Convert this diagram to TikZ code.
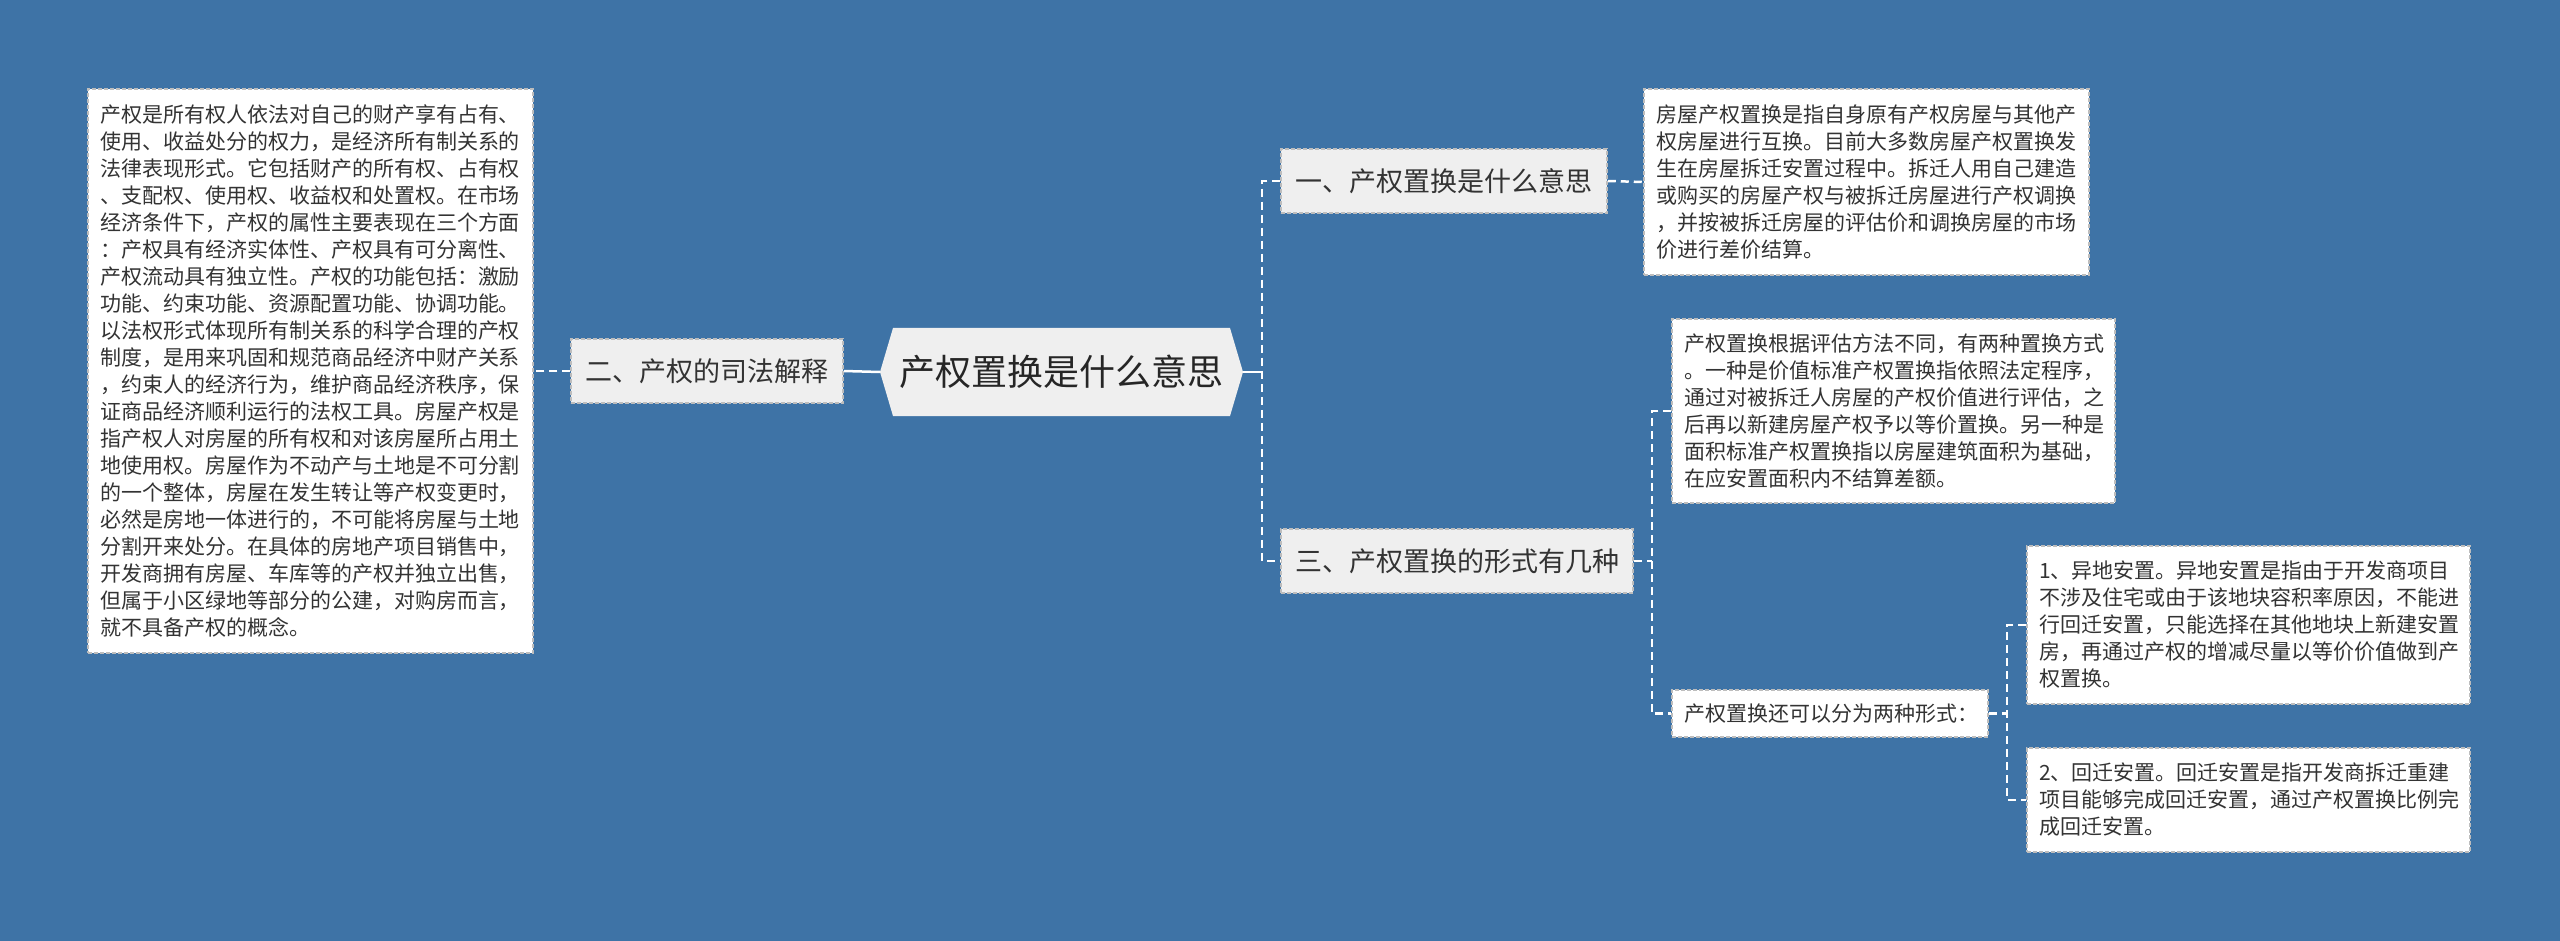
\documentclass[tikz,border=0pt]{standalone}
\usepackage{fontspec}
\setmainfont{Noto Sans CJK SC}
\usetikzlibrary{calc}
\definecolor{bg}{HTML}{3E73A6}
\definecolor{boxgray}{HTML}{EFEFEF}
\definecolor{txt}{HTML}{333333}
\definecolor{bord}{HTML}{BDBDBD}
\begin{document}
\begin{tikzpicture}[x=1pt,y=-1pt,
  tbox/.style={draw=bord, line width=1.5pt, dash pattern=on 4pt off 2pt, fill=white, text=txt,
    font=\fontsize{21pt}{27pt}\selectfont, align=left, inner xsep=12pt, inner ysep=0pt, anchor=center},
  lbox/.style={draw=bord, line width=1.5pt, dash pattern=on 4pt off 2pt, fill=boxgray, text=txt,
    font=\fontsize{27pt}{32pt}\selectfont, inner sep=0pt, minimum height=64pt},
  conn/.style={draw=white, line width=2.5pt, dash pattern=on 8pt off 5pt},
  solidconn/.style={draw=white, line width=2.5pt}]
\path[use as bounding box, fill=bg] (0,0) rectangle (2560,941);

% central hexagon
\fill[boxgray] (880,372) -- (893,328) -- (1230,328) -- (1243,372) -- (1230,416) -- (893,416) -- cycle;
\node[minimum width=363pt, minimum height=88pt, inner sep=0pt, text=black!85,
  font=\fontsize{36pt}{40pt}\selectfont] (C) at (1061.5,372) {产权置换是什么意思};

% level 1
\node[lbox, minimum width=272pt] (B2) at (707,371) {二、产权的司法解释};
\node[lbox, minimum width=326pt] (B1) at (1444,181) {一、产权置换是什么意思};
\node[lbox, minimum width=352pt] (B3) at (1457,561) {三、产权置换的形式有几种};

% left text
\node[tbox, text width=421pt, minimum height=564pt] (L) at (310.5,371) {产权是所有权人依法对自己的财产享有占有、\\
使用、收益处分的权力，是经济所有制关系的\\
法律表现形式。它包括财产的所有权、占有权\\
、支配权、使用权、收益权和处置权。在市场\\
经济条件下，产权的属性主要表现在三个方面\\
：产权具有经济实体性、产权具有可分离性、\\
产权流动具有独立性。产权的功能包括：激励\\
功能、约束功能、资源配置功能、协调功能。\\
以法权形式体现所有制关系的科学合理的产权\\
制度，是用来巩固和规范商品经济中财产关系\\
，约束人的经济行为，维护商品经济秩序，保\\
证商品经济顺利运行的法权工具。房屋产权是\\
指产权人对房屋的所有权和对该房屋所占用土\\
地使用权。房屋作为不动产与土地是不可分割\\
的一个整体，房屋在发生转让等产权变更时，\\
必然是房地一体进行的，不可能将房屋与土地\\
分割开来处分。在具体的房地产项目销售中，\\
开发商拥有房屋、车库等的产权并独立出售，\\
但属于小区绿地等部分的公建，对购房而言，\\
就不具备产权的概念。};

% right texts
\node[tbox, text width=421pt, minimum height=186pt] (T1) at (1866.5,182) {房屋产权置换是指自身原有产权房屋与其他产\\
权房屋进行互换。目前大多数房屋产权置换发\\
生在房屋拆迁安置过程中。拆迁人用自己建造\\
或购买的房屋产权与被拆迁房屋进行产权调换\\
，并按被拆迁房屋的评估价和调换房屋的市场\\
价进行差价结算。};

\node[tbox, text width=419pt, minimum height=184pt] (T2) at (1893.5,411) {产权置换根据评估方法不同，有两种置换方式\\
。一种是价值标准产权置换指依照法定程序，\\
通过对被拆迁人房屋的产权价值进行评估，之\\
后再以新建房屋产权予以等价置换。另一种是\\
面积标准产权置换指以房屋建筑面积为基础，\\
在应安置面积内不结算差额。};

\node[tbox, text width=292pt, minimum height=47pt] (F) at (1830,713.5) {产权置换还可以分为两种形式：};

\node[tbox, text width=419pt, minimum height=158pt] (S1) at (2248.5,625) {1、异地安置。异地安置是指由于开发商项目\\
不涉及住宅或由于该地块容积率原因，不能进\\
行回迁安置，只能选择在其他地块上新建安置\\
房，再通过产权的增减尽量以等价价值做到产\\
权置换。};

\node[tbox, text width=419pt, minimum height=104pt] (S2) at (2248.5,800) {2、回迁安置。回迁安置是指开发商拆迁重建\\
项目能够完成回迁安置，通过产权置换比例完\\
成回迁安置。};

% trunk coordinates
\coordinate (t1) at (1262,372);
\coordinate (t2) at (1652,561);
\coordinate (t3) at (2007,713.5);

% connectors
\draw[solidconn] (C.west) -- (B2.east);
\draw[conn] (B2.west) -- (L.east);
\draw[solidconn] (C.east) -- (t1);
\draw[conn] (B1.west) -- (B1.west -| t1) -- (B3.west -| t1) -- (B3.west);
\draw[conn] (B1.east) -- (T1.west);
\draw[conn] (B3.east) -- (t2);
\draw[conn] (T2.west) -- (T2.west -| t2) -- (F.west -| t2) -- (F.west);
\draw[conn] (F.east) -- (t3);
\draw[conn] (S1.west) -- (S1.west -| t3) -- (S2.west -| t3) -- (S2.west);
\end{tikzpicture}
\end{document}
